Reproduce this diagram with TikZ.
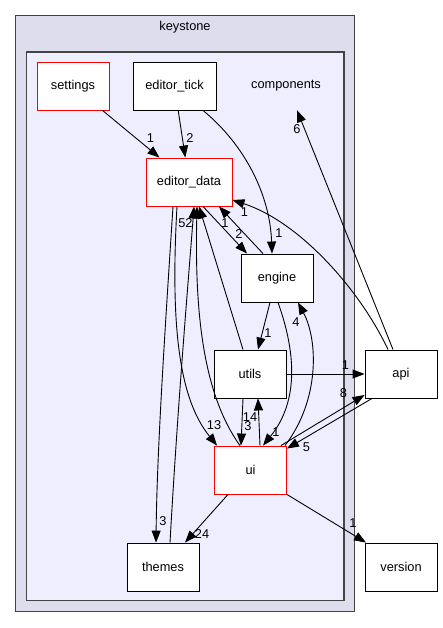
\documentclass[tikz,border=0pt]{standalone}
\usepackage{fontspec}
\setmainfont{Liberation Sans}
\usetikzlibrary{arrows.meta}
\definecolor{outerfill}{HTML}{DDDDEE}
\definecolor{innerfill}{HTML}{EEEEFF}
\definecolor{frame}{HTML}{444444}
\begin{document}
\begin{tikzpicture}[x=1pt, y=-1pt, font=\fontsize{12.8}{15}\selectfont,
		main/.style = {draw, fill=white, line width=0.9pt, minimum width=72pt, minimum height=48pt, inner sep=0pt},
		hot/.style = {main, draw=red},
		dep/.style = {-{Triangle[length=12pt, width=9pt]}, line width=0.9pt},
		lbl/.style = {inner sep=0pt, pos=1}]
		\useasboundingbox[fill=white] (0,0) rectangle (443,628);
		\draw[fill=outerfill, draw=frame, line width=1pt] (15.5,15.5) rectangle (354,611);
		\node (k) at (185,27) {keystone};
		\draw[fill=innerfill, draw=frame, line width=1.4pt] (26.5,52) rectangle (344,600.5);
		\node[minimum height=48pt] (10) at (286,86) {components};
		\node[hot] (1) at (73,86) {settings};
		\node[main, minimum width=83pt] (2) at (174.5,86) {editor\_tick};
		\node[hot, minimum width=86pt] (3) at (189,182) {editor\_data};
		\node[main] (4) at (277,278) {engine};
		\node[main] (5) at (250,374) {utils};
		\node[hot] (6) at (250.5,470) {ui};
		\node[main] (7) at (163,567) {themes};
		\node[main] (8) at (401,374) {api};
		\node[main] (9) at (401,567) {version};
		\draw[dep] (1) -- node[lbl, xshift=-9pt, yshift=19pt] {1} (3);
		\draw[dep] (2) -- node[lbl, xshift=4.6pt, yshift=20pt] {2} (3);
		\draw[dep] ([xshift=28.5pt]2.south) .. controls (245,145) and (270,195) .. node[lbl, xshift=7pt, yshift=20pt] {1} ([xshift=-5pt]4.north);
		\draw[dep] ([xshift=14pt]3.south) -- node[lbl, xshift=-8pt, yshift=20pt] {2} ([xshift=-30pt]4.north);
		\draw[dep] ([xshift=-14pt]4.north) -- node[lbl, xshift=6pt, yshift=-17pt] {1} ([xshift=30pt]3.south);
		\draw[dep] ([xshift=-13pt]8.north) .. controls (360,290) and (300,222) .. node[lbl, xshift=12pt, yshift=-12pt] {1} ([yshift=-18pt]3.east);
		\draw[dep] ([xshift=-8pt]8.north) -- node[lbl, xshift=0pt, yshift=-19pt] {6} ([xshift=11pt]10.south);
		\draw[dep] ([xshift=-7pt]4.south) -- node[lbl, xshift=10pt, yshift=16pt] {1} ([xshift=8pt]5.north);
		\draw[dep] ([xshift=1pt]4.south) .. controls (295,350) and (300,400) .. node[lbl, xshift=13pt, yshift=13pt] {1} ([xshift=12.5pt]6.north);
		\draw[dep] ([xshift=-2pt]6.north east) .. controls (320,400) and (318,340) .. node[lbl, xshift=-2pt, yshift=-20pt] {4} ([xshift=21pt]4.south);
		\draw[dep] ([xshift=-6pt]6.north east) -- node[lbl, xshift=-21pt, yshift=2pt] {8} ([yshift=-21pt]8.west);
		\draw[dep] ([xshift=-29pt]8.south) -- node[lbl, xshift=19.5pt, yshift=1pt] {5} ([yshift=-3pt]6.north east);
		\draw[dep] ([xshift=-7pt]5.south) -- node[lbl, xshift=7pt, yshift=19pt] {3} ([xshift=-9.5pt]6.north);
		\draw[dep] ([xshift=9.5pt]6.north) -- node[lbl, xshift=-8pt, yshift=-19pt] {14} ([xshift=8pt]5.south);
		\draw[dep] (5.east) -- node[lbl, xshift=-19pt, yshift=9pt] {1} (8.west);
		\draw[dep] ([xshift=-12pt]3.south) .. controls (170,330) and (180,400) .. node[lbl, xshift=-3pt, yshift=20pt] {13} ([xshift=3pt]6.north west);
		\draw[dep] ([xshift=-16pt]3.south) .. controls (165,330) and (157,450) .. node[lbl, xshift=7pt, yshift=21pt] {3} ([xshift=-7pt]7.north);
		\draw[dep] ([xshift=7pt]7.north) .. controls (178,400) and (190,260) .. node[lbl, xshift=-5pt, yshift=-17pt] {2} ([xshift=5pt]3.south);
		\draw[dep] ([xshift=-10.5pt]6.north) .. controls (200,390) and (195,300) .. node[lbl, xshift=-15pt, yshift=-17pt] {5} ([xshift=8pt]3.south);
		\draw[dep] ([xshift=-7pt]5.north) -- ([xshift=10pt]3.south);
		\draw[dep] ([xshift=-22.5pt]6.south) -- node[lbl, xshift=17pt, yshift=9pt] {24} ([xshift=22pt]7.north);
		\draw[dep] (6.south east) -- node[lbl, xshift=-13pt, yshift=19pt] {1} ([xshift=-35pt]9.north);
	\end{tikzpicture}
\end{document}
